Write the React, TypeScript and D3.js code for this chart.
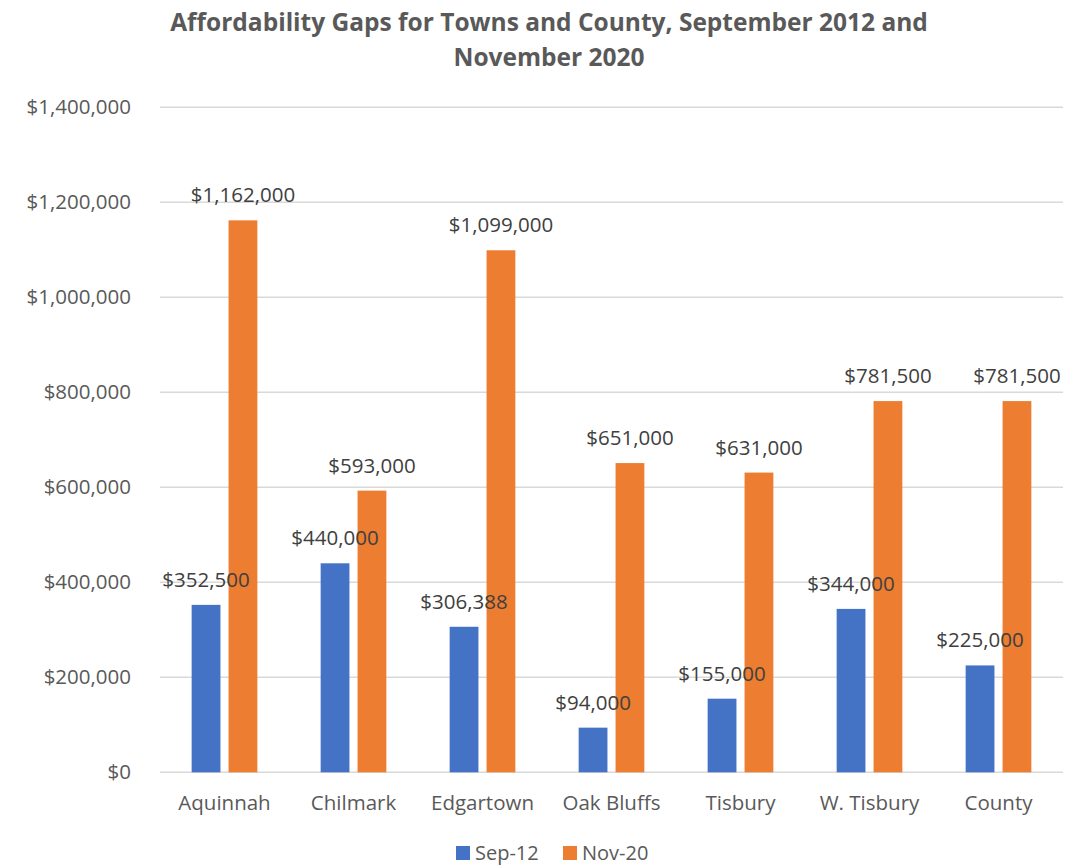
import React, { useEffect, useRef } from "react";
import * as d3 from "d3";

const categories = ["Aquinnah", "Chilmark", "Edgartown", "Oak Bluffs", "Tisbury", "W. Tisbury", "County"];
const sep12 = [352500, 440000, 306388, 94000, 155000, 344000, 225000];
const nov20 = [1162000, 593000, 1099000, 651000, 631000, 781500, 781500];
const seriesNames = ["Sep-12", "Nov-20"];
const colors = ["#4472C4", "#ED7D31"];
const yTicks = [0, 200000, 400000, 600000, 800000, 1000000, 1200000, 1400000];
const titleLines = ["Affordability Gaps for Towns and County, September 2012 and", "November 2020"];

const W = 1083;
const H = 868;
const FONT = "'Open Sans', 'Liberation Sans', sans-serif";
const FS = 20.5;

export default function App() {
  const ref = useRef<SVGSVGElement>(null);
  useEffect(() => {
    const svg = d3.select(ref.current);
    svg.selectAll("*").remove();
    const left = 160, right = 1063, top = 107.3, bottom = 772.3;
    const x0 = d3.scaleBand<string>().domain(categories).range([left, right]).paddingInner(0).paddingOuter(0);
    const groupW = 65.7;
    const x1 = d3.scaleBand<string>().domain(seriesNames).range([0, groupW]).paddingInner(0.22).paddingOuter(0);
    const y = d3.scaleLinear().domain([0, 1400000]).range([bottom, top]);
    const fmt = (v: number) => "$" + d3.format(",")(v);

    svg.append("rect").attr("width", W).attr("height", H).attr("fill", "#fff");

    // title
    svg.append("g").selectAll("text").data(titleLines).join("text")
      .attr("x", 549).attr("y", (_d, i) => 31 + i * 35)
      .attr("text-anchor", "middle").attr("font-family", FONT).attr("font-weight", "bold")
      .attr("font-size", 24.5).attr("fill", "#595959").text((d) => d);

    // gridlines
    svg.append("g").selectAll("line").data(yTicks).join("line")
      .attr("x1", left).attr("x2", right).attr("y1", (d) => y(d)).attr("y2", (d) => y(d))
      .attr("stroke", "#d9d9d9").attr("stroke-width", 1.5);

    // y labels
    svg.append("g").selectAll("text").data(yTicks).join("text")
      .attr("x", 131).attr("y", (d) => y(d)).attr("dy", "0.35em")
      .attr("text-anchor", "end").attr("font-family", FONT).attr("font-size", FS)
      .attr("fill", "#595959").text((d) => fmt(d));

    const series = [sep12, nov20];
    const bx = (si: number, i: number) =>
      x0(categories[i])! + (x0.bandwidth() - groupW) / 2 + x1(seriesNames[si])!;
    series.forEach((vals, si) => {
      svg.append("g").selectAll("rect").data(vals).join("rect")
        .attr("x", (_d, i) => bx(si, i)).attr("width", x1.bandwidth())
        .attr("y", (d) => y(d)).attr("height", (d) => bottom - y(d))
        .attr("fill", colors[si]);
    });
    series.forEach((vals, si) => {
      svg.append("g").selectAll("text").data(vals).join("text")
        .attr("x", (_d, i) => bx(si, i) + x1.bandwidth() / 2).attr("y", (d) => y(d) - 18)
        .attr("text-anchor", "middle").attr("font-family", FONT).attr("font-size", FS)
        .attr("fill", "#404040").text((d) => fmt(d));
    });

    // category labels
    svg.append("g").selectAll("text").data(categories).join("text")
      .attr("x", (d) => x0(d)! + x0.bandwidth() / 2).attr("y", 810)
      .attr("text-anchor", "middle").attr("font-family", FONT).attr("font-size", FS)
      .attr("fill", "#595959").text((d) => d);

    // legend
    const legX = [456, 563];
    const lg = svg.append("g");
    seriesNames.forEach((name, i) => {
      lg.append("rect").attr("x", legX[i]).attr("y", 846).attr("width", 14).attr("height", 14).attr("fill", colors[i]);
      lg.append("text").attr("x", legX[i] + 19).attr("y", 860).attr("font-family", FONT)
        .attr("font-size", 20).attr("fill", "#595959").text(name);
    });
  }, []);
  return <svg ref={ref} width={W} height={H} style={{ display: "block", position: "fixed", top: 0, left: 0 }} />;
}
